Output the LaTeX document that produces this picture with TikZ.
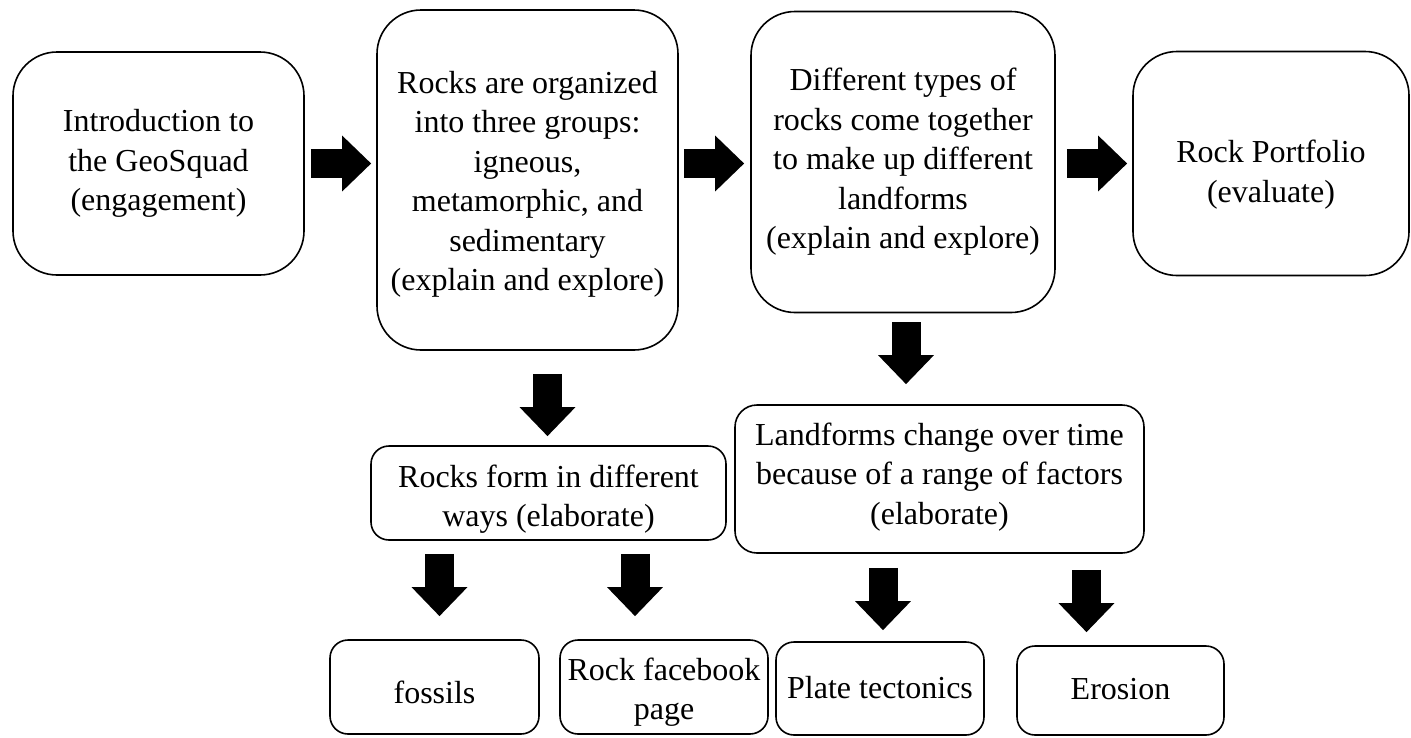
\documentclass[tikz,border=0pt]{standalone}
\usepackage{fontspec}
\setmainfont{Liberation Serif}
\usetikzlibrary{arrows.meta}
\newcommand{\shifttext}[2]{\raisebox{#1}[\height][\depth]{\begin{tabular}{@{}c@{}}#2\end{tabular}}}
\begin{document}
\begin{tikzpicture}[x=1pt,y=1pt,
  box/.style={draw=black, line width=1.6pt, inner sep=0pt, align=center,
    font=\fontsize{32}{39.5}\selectfont},
  bigbox/.style={box, rounded corners=44pt},
  smallbox/.style={box, rounded corners=18pt},
  flow/.style={line width=29pt, line cap=butt, -{Triangle[length=29pt,width=54pt]}}]
\useasboundingbox (0,0) rectangle (1411,-737);
% top row
\node[bigbox, minimum width=291pt, minimum height=223pt] (b1) at (158.5,-163.5)
  {\shifttext{0pt}{Introduction to\\the GeoSquad\\(engagement)}};
\node[bigbox, minimum width=301pt, minimum height=340pt] (b2) at (527.5,-180)
  {\shifttext{-4pt}{Rocks are organized\\into three groups:\\igneous,\\metamorphic, and\\sedimentary\\(explain and explore)}};
\node[bigbox, minimum width=304pt, minimum height=301pt] (b3) at (903,-162)
  {\shifttext{0pt}{Different types of\\rocks come together\\to make up different\\landforms\\(explain and explore)}};
\node[bigbox, minimum width=276pt, minimum height=224pt] (b4) at (1271,-163.5)
  {\shifttext{-11pt}{Rock Portfolio\\(evaluate)}};
% middle row
\node[smallbox, minimum width=355pt, minimum height=94pt] (rf) at (548.5,-493)
  {\shifttext{-6pt}{Rocks form in different\\ways (elaborate)}};
\node[smallbox, rounded corners=22pt, minimum width=409pt, minimum height=148pt] (lf) at (939.5,-479)
  {\shifttext{2pt}{Landforms change over time\\because of a range of factors\\(elaborate)}};
% bottom row
\node[smallbox, minimum width=209pt, minimum height=94pt] (fos) at (434.5,-687) {\shifttext{-9pt}{fossils}};
\node[smallbox, minimum width=208pt, minimum height=94pt] (fb) at (664,-687) {\shifttext{-5pt}{Rock facebook\\page}};
\node[smallbox, minimum width=208pt, minimum height=93pt] (pt) at (880,-688.5) {\shifttext{-2pt}{Plate tectonics}};
\node[smallbox, minimum width=207pt, minimum height=89pt] (er) at (1120.5,-690.5) {\shifttext{-1pt}{Erosion}};
% horizontal arrows
\draw[flow, shorten <=6pt, shorten >=5pt] (b1.east) -- (b2.west |- b1.east);
\draw[flow, shorten <=5pt, shorten >=6pt] (b2.east |- b1.east) -- (b3.west |- b1.east);
\draw[flow, shorten <=11pt, shorten >=5pt] (b3.east |- b1.east) -- (b4.west);
% down arrows
\draw[flow, shorten <=23pt, shorten >=9pt] ([xshift=-1pt]rf.north |- b2.south) -- ([xshift=-1pt]rf.north);
\draw[flow, shorten <=9pt, shorten >=20pt] ([xshift=3pt]b3.south) -- ([xshift=3pt]b3.south |- lf.north);
\draw[flow, shorten <=13pt, shorten >=23pt] ([xshift=5pt]fos.north |- rf.south) -- ([xshift=5pt]fos.north);
\draw[flow, shorten <=13pt, shorten >=23pt] ([xshift=-29pt]fb.north |- rf.south) -- ([xshift=-29pt]fb.north);
\draw[flow, shorten <=14pt, shorten >=11pt] ([xshift=3pt]pt.north |- lf.south) -- ([xshift=3pt]pt.north);
\draw[flow, shorten <=16pt, shorten >=13pt] ([xshift=-34pt]er.north |- lf.south) -- ([xshift=-34pt]er.north);
\end{tikzpicture}
\end{document}
